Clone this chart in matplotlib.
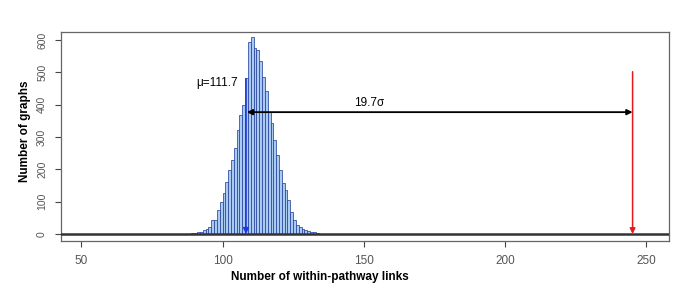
import numpy as np
import matplotlib.pyplot as plt

# histogram of within-pathway links in random graphs (bin left edges, counts)
bin_left = list(range(87, 135))
counts = [1, 1, 2, 3, 5, 7, 12, 15, 21, 42, 42, 73, 99, 126, 162, 198, 229, 265,
          322, 368, 399, 482, 595, 611, 575, 570, 534, 487, 441, 378, 343, 291,
          245, 198, 157, 136, 105, 69, 42, 27, 22, 17, 12, 9, 7, 5, 3, 1]

mu_x = 108.3          # where the blue arrow is drawn
observed_x = 245.2    # observed number of links (red arrow)
arrow_y = 377
mu_label = "μ=111.7"
sigma_label = "19.7σ"

x_ticks = [50, 100, 150, 200, 250]
y_ticks = [0, 100, 200, 300, 400, 500, 600]

fig = plt.figure(figsize=(6.85, 2.89), dpi=100)
ax = fig.add_axes([61 / 685, 1 - 240.7 / 289, (669.3 - 61) / 685, (240.7 - 32.3) / 289])

# bars
ax.bar(bin_left, counts, width=1.0, align='edge', color='#a9cbf2',
       edgecolor='#2a45a0', linewidth=0.55, zorder=2)

# heavy zero line
ax.axhline(0, color='#333333', lw=1.8, zorder=3)

# blue arrow at the mean
ax.annotate('', xy=(mu_x, 0), xytext=(mu_x, 480),
            arrowprops=dict(arrowstyle='-|>', color='#1a3ae0', lw=1.2,
                            mutation_scale=8, shrinkA=0, shrinkB=0), zorder=4)
# red arrow at observed value
ax.annotate('', xy=(observed_x, 0), xytext=(observed_x, 502),
            arrowprops=dict(arrowstyle='-|>', color='#e31a1c', lw=1.1,
                            mutation_scale=8, shrinkA=0, shrinkB=0), zorder=4)
# black double arrow spanning the distance
ax.annotate('', xy=(mu_x + 0.3, arrow_y), xytext=(observed_x, arrow_y),
            arrowprops=dict(arrowstyle='<|-|>', color='black', lw=1.3,
                            mutation_scale=8, shrinkA=0, shrinkB=0), zorder=5)

ax.text(105.5, 467, mu_label, ha='right', va='center', fontsize=8.5,
        family='Liberation Sans')
ax.text(152, 405, sigma_label, ha='center', va='center', fontsize=8.5,
        family='Liberation Sans')

ax.set_xlim(42.8, 258.2)
ax.set_ylim(-20.7, 624)

ax.set_xticks(x_ticks)
ax.set_yticks(y_ticks)
ax.set_xticklabels([str(t) for t in x_ticks], fontsize=8.5, color='#555555',
                   family='Liberation Sans')
ax.set_yticklabels([str(t) for t in y_ticks], fontsize=7.5, color='#555555',
                   rotation=90, va='center', family='Liberation Sans')
ax.tick_params(axis='both', direction='out', length=4, width=0.8,
               color='#444444', pad=6)

for s in ax.spines.values():
    s.set_color('#666666')
    s.set_linewidth(0.9)

fig.text(320 / 685, 1 - 277 / 289, 'Number of within-pathway links', ha='center',
         va='center', fontsize=8.5, fontweight='bold', family='Liberation Sans')
fig.text(25 / 685, 1 - 131 / 289, 'Number of graphs', ha='center', va='center',
         rotation=90, fontsize=8.5, fontweight='bold', family='Liberation Sans')

fig.savefig('out.png', dpi=100)
